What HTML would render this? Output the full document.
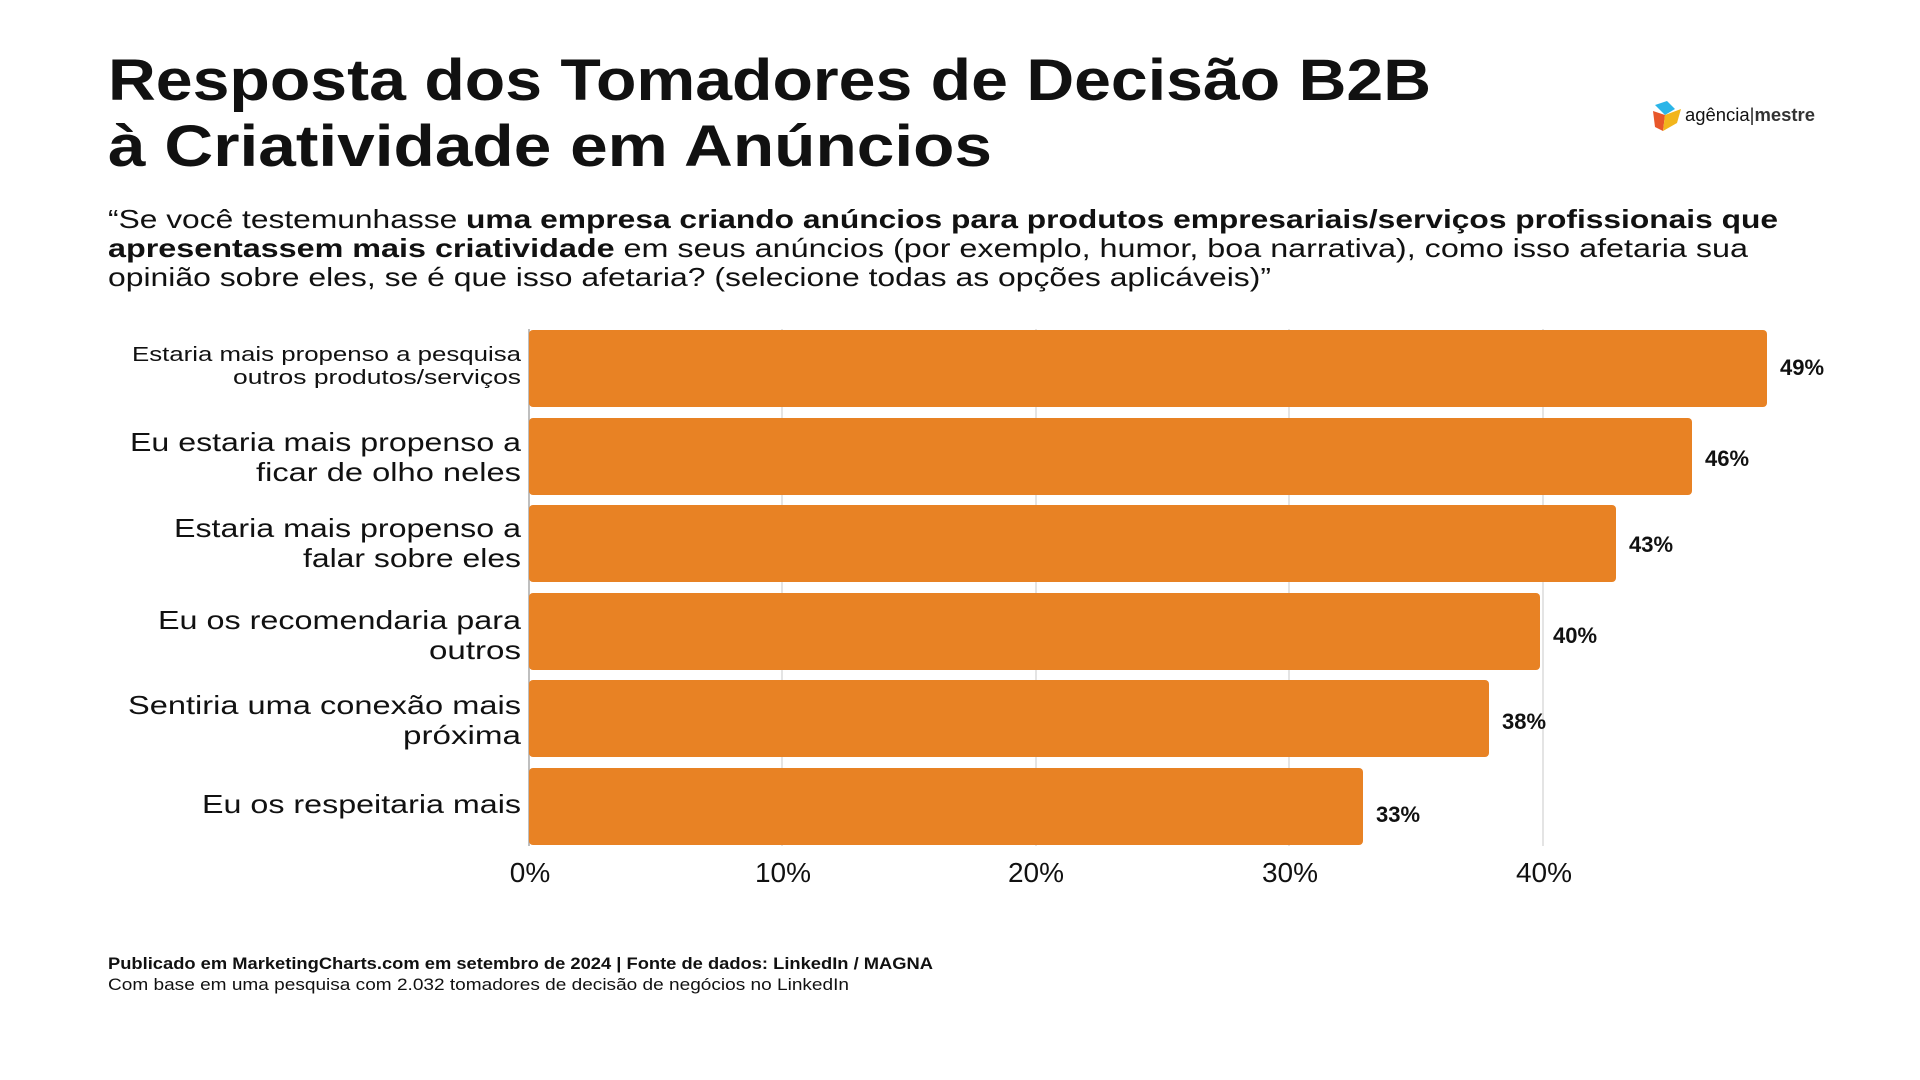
<!DOCTYPE html>
<html><head><meta charset="utf-8"><style>
html,body{margin:0;padding:0;background:#fff;width:1920px;height:1080px;overflow:hidden}
svg{display:block}
text{font-family:"Liberation Sans",sans-serif;fill:#111}
</style></head><body>
<svg width="1920" height="1080" viewBox="0 0 1920 1080">
<text x="108" y="100" font-size="58" font-weight="bold" textLength="1323" lengthAdjust="spacingAndGlyphs" fill="#000">Resposta dos Tomadores de Decisão B2B</text>
<text x="108" y="166" font-size="58" font-weight="bold" textLength="884" lengthAdjust="spacingAndGlyphs" fill="#000">à Criatividade em Anúncios</text>

<text x="108" y="228" font-size="26" textLength="1670" lengthAdjust="spacingAndGlyphs">“Se você testemunhasse <tspan font-weight="bold">uma empresa criando anúncios para produtos empresariais/serviços profissionais que</tspan></text>
<text x="108" y="257" font-size="26" textLength="1640" lengthAdjust="spacingAndGlyphs"><tspan font-weight="bold">apresentassem mais criatividade</tspan> em seus anúncios (por exemplo, humor, boa narrativa), como isso afetaria sua</text>
<text x="108" y="286" font-size="26" textLength="1163" lengthAdjust="spacingAndGlyphs">opinião sobre eles, se é que isso afetaria? (selecione todas as opções aplicáveis)”</text>

<!-- logo -->
<g transform="translate(1653,101)">
<polygon points="2,4 14,0 22,8 12,14" fill="#2bb5e8"/>
<polygon points="0,10 12,14 10,30 2,26" fill="#e8572a"/>
<polygon points="12,14 28,8 24,22 10,30" fill="#f2b51c"/>
</g>
<text x="1685" y="121" font-size="18" fill="#555" textLength="130" lengthAdjust="spacingAndGlyphs">agência<tspan fill="#222">|</tspan><tspan font-weight="bold" fill="#333">mestre</tspan></text>

<!-- gridlines -->
<g stroke="#dcdcdc" stroke-width="1.5">
<line x1="782" y1="329" x2="782" y2="846"/>
<line x1="1036" y1="329" x2="1036" y2="846"/>
<line x1="1289" y1="329" x2="1289" y2="846"/>
<line x1="1543" y1="329" x2="1543" y2="846"/>
</g>
<line x1="529" y1="329" x2="529" y2="846" stroke="#aaa" stroke-width="1.5"/>

<g fill="#e88224">
<rect x="529" y="330" width="1238" height="77" rx="4"/>
<rect x="529" y="418" width="1163" height="77" rx="4"/>
<rect x="529" y="505" width="1087" height="77" rx="4"/>
<rect x="529" y="593" width="1011" height="77" rx="4"/>
<rect x="529" y="680" width="960" height="77" rx="4"/>
<rect x="529" y="768" width="834" height="77" rx="4"/>
</g>

<g font-size="22" font-weight="bold">
<text x="1780" y="375">49%</text>
<text x="1705" y="466">46%</text>
<text x="1629" y="552">43%</text>
<text x="1553" y="643">40%</text>
<text x="1502" y="729">38%</text>
<text x="1376" y="822">33%</text>
</g>

<g font-size="26" text-anchor="end" fill="#333">
<text x="521" y="361" font-size="20" textLength="389" lengthAdjust="spacingAndGlyphs">Estaria mais propenso a pesquisa</text>
<text x="521" y="384" font-size="20" textLength="288" lengthAdjust="spacingAndGlyphs">outros produtos/serviços</text>
<text x="521" y="451" textLength="391" lengthAdjust="spacingAndGlyphs">Eu estaria mais propenso a</text>
<text x="521" y="481" textLength="265" lengthAdjust="spacingAndGlyphs">ficar de olho neles</text>
<text x="521" y="537" textLength="347" lengthAdjust="spacingAndGlyphs">Estaria mais propenso a</text>
<text x="521" y="567" textLength="218" lengthAdjust="spacingAndGlyphs">falar sobre eles</text>
<text x="521" y="629" textLength="363" lengthAdjust="spacingAndGlyphs">Eu os recomendaria para</text>
<text x="521" y="659" textLength="92" lengthAdjust="spacingAndGlyphs">outros</text>
<text x="521" y="714" textLength="393" lengthAdjust="spacingAndGlyphs">Sentiria uma conexão mais</text>
<text x="521" y="744" textLength="118" lengthAdjust="spacingAndGlyphs">próxima</text>
<text x="521" y="813" textLength="319" lengthAdjust="spacingAndGlyphs">Eu os respeitaria mais</text>
</g>

<g font-size="28" text-anchor="middle" fill="#111">
<text x="530" y="882">0%</text>
<text x="783" y="882">10%</text>
<text x="1036" y="882">20%</text>
<text x="1290" y="882">30%</text>
<text x="1544" y="882">40%</text>
</g>

<text x="108" y="969" font-size="17" font-weight="bold" fill="#000" textLength="825" lengthAdjust="spacingAndGlyphs">Publicado em MarketingCharts.com em setembro de 2024 | Fonte de dados: LinkedIn / MAGNA</text>
<text x="108" y="990" font-size="17" fill="#000" textLength="741" lengthAdjust="spacingAndGlyphs">Com base em uma pesquisa com 2.032 tomadores de decisão de negócios no LinkedIn</text>
</svg>
</body></html>
